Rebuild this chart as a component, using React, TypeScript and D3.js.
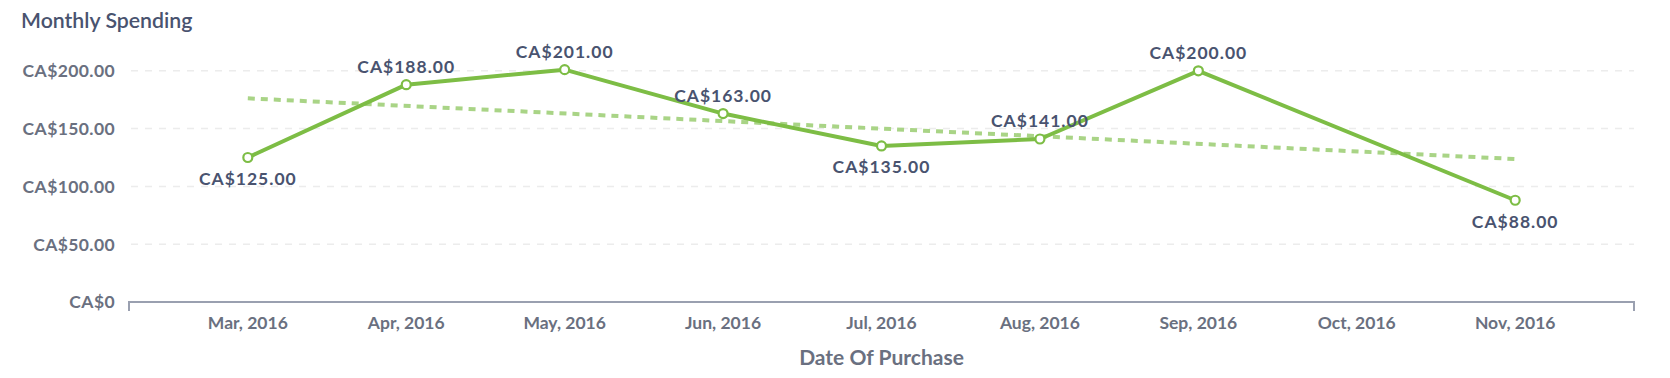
import React from "react";
import * as d3 from "d3";

const months = ["Mar, 2016", "Apr, 2016", "May, 2016", "Jun, 2016", "Jul, 2016", "Aug, 2016", "Sep, 2016", "Oct, 2016", "Nov, 2016"];
const spending: (number | null)[] = [125, 188, 201, 163, 135, 141, 200, null, 88];
const trendMonths = ["Mar, 2016", "Nov, 2016"];
const trendValues = [176.2, 123.7];
const yTicks = [0, 50, 100, 150, 200];
const title = "Monthly Spending";
const xTitle = "Date Of Purchase";

const W = 1670;
const H = 378;
const FONT = "Lato, 'Open Sans', sans-serif";
const GREEN = "#7dbd45";
const TREND = "#a9d486";
const LABEL = "#49536f";
const AXIS_TXT = "#6a7080";
const AXIS_LINE = "#9aa0b0";

const fmt = (v: number) => (v === 0 ? "CA$0" : "CA$" + d3.format(",.2f")(v));

export default function App() {
  const x = d3.scalePoint<string>().domain(months).range([129, 1634]).padding(0.75);
  const y = d3.scaleLinear().domain([0, 200]).range([302, 70.8]);

  const pts = months
    .map((m, i) => ({ m, v: spending[i], i }))
    .filter((d) => d.v !== null) as { m: string; v: number; i: number }[];

  const line = d3
    .line<{ m: string; v: number }>()
    .x((d) => x(d.m)!)
    .y((d) => y(d.v));

  const trend = trendMonths.map((m, i) => ({ m, v: trendValues[i] }));

  const isBelow = (k: number) => {
    const v = pts[k].v;
    const prev = k > 0 ? pts[k - 1].v : Infinity;
    const next = k < pts.length - 1 ? pts[k + 1].v : Infinity;
    return v < prev && v < next;
  };

  const [x0, x1] = x.range();

  return (
    <svg width={W} height={H} style={{ position: "absolute", left: 0, top: 0, fontFamily: FONT }}>
      <rect width={W} height={H} fill="#fff" />
      <text x={21} y={28} fontSize={21.3} fontWeight={600} fill={LABEL}>
        {title}
      </text>
      {yTicks.map((t) => (
        <g key={t}>
          {t > 0 && (
            <line x1={131} x2={1634} y1={y(t)} y2={y(t)} stroke="#ececec" strokeWidth={1.5} strokeDasharray="7,7" />
          )}
          <text x={115} y={y(t)} dy="0.36em" textAnchor="end" fontSize={17.5} fontWeight={700} fill={AXIS_TXT} letterSpacing={0.4}>
            {fmt(t)}
          </text>
        </g>
      ))}
      <path
        d={`M${x0},${y(0) + 9}V${y(0)}H${x1}V${y(0) + 9}`}
        fill="none"
        stroke={AXIS_LINE}
        strokeWidth={2}
      />
      {months.map((m) => (
        <text key={m} x={x(m)!} y={328.5} textAnchor="middle" fontSize={17.5} fontWeight={700} fill={AXIS_TXT}>
          {m}
        </text>
      ))}
      <text x={(x0 + x1) / 2} y={364.5} textAnchor="middle" fontSize={21} fontWeight={700} fill={AXIS_TXT}>
        {xTitle}
      </text>
      <path d={line(trend)!} fill="none" stroke={TREND} strokeWidth={4} strokeDasharray="7,6" />
      <path d={line(pts)!} fill="none" stroke={GREEN} strokeWidth={4} strokeLinejoin="round" />
      {pts.map((d) => (
        <circle key={d.m} cx={x(d.m)!} cy={y(d.v)} r={4.5} fill="#fff" stroke={GREEN} strokeWidth={2.2} />
      ))}
      {pts.map((d, k) => (
        <text
          key={"l" + d.m}
          x={x(d.m)!}
          y={y(d.v) + (isBelow(k) ? 27.5 : -12)}
          textAnchor="middle"
          fontSize={17.5}
          fontWeight={700}
          fill={LABEL}
          letterSpacing={1}
        >
          {fmt(d.v)}
        </text>
      ))}
    </svg>
  );
}
